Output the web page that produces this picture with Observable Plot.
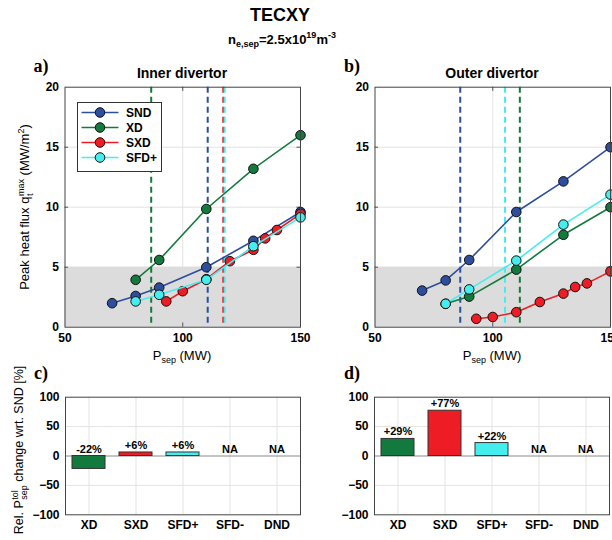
<!DOCTYPE html>
<html><head><meta charset="utf-8">
<script src="https://cdn.jsdelivr.net/npm/d3@7"></script>
<script src="https://cdn.jsdelivr.net/npm/@observablehq/plot@0.6"></script>
<style>
html,body{margin:0;padding:0;background:#fff;}
#root{position:relative;width:612px;height:540px;overflow:hidden;font-family:"Liberation Sans",Arial,sans-serif;color:#000;}
.abs{position:absolute;white-space:nowrap;line-height:1;}
.c{transform:translate(-50%,-50%);}
.panel{font-family:"Liberation Serif","Times New Roman",serif;font-weight:bold;font-size:18px;}
.ttl{font-weight:bold;font-size:14px;}
.lab{font-size:13px;}
sub,sup{font-size:9px;line-height:0;}
.stack{display:inline-flex;flex-direction:column;font-size:9px;line-height:9px;vertical-align:middle;margin-left:0.5px;}
</style></head><body><div id="root"></div>
<script>
// ---------------- data ----------------
const seriesNames = ["SND", "XD", "SXD", "SFD+"];
const seriesColors = ["#2d4e9e", "#127a3c", "#ee1c24", "#44eeee"];

// Inner divertor (panel a): P_sep (MW) and peak heat flux (MW/m2)
const sndInnerX = [70, 80, 90, 110, 130, 150];
const sndInnerY = [2.0, 2.6, 3.3, 5.0, 7.2, 9.6];
const xdInnerX = [80, 90, 110, 130, 150];
const xdInnerY = [3.95, 5.6, 9.85, 13.2, 16.0];
const sxdInnerX = [93, 100, 110, 120, 130, 135, 140, 150];
const sxdInnerY = [2.15, 3.0, 4.0, 5.5, 6.45, 7.4, 8.1, 9.45];
const sfdInnerX = [80, 90, 110, 130, 150];
const sfdInnerY = [2.15, 2.7, 3.95, 6.75, 9.15];
const tolInner = [110.6, 86.6, 117.2, 117.8]; // SND, XD, SXD, SFD+

// Outer divertor (panel b)
const sndOuterX = [70, 80, 90, 110, 130, 150];
const sndOuterY = [3.05, 3.9, 5.6, 9.6, 12.15, 15.0];
const xdOuterX = [80, 90, 110, 130, 150];
const xdOuterY = [1.95, 2.55, 4.8, 7.7, 10.0];
const sxdOuterX = [93, 100, 110, 120, 130, 135, 140, 150];
const sxdOuterY = [0.7, 0.85, 1.25, 2.1, 2.8, 3.35, 3.65, 4.65];
const sfdOuterX = [80, 90, 110, 130, 150];
const sfdOuterY = [1.95, 3.15, 5.55, 8.55, 11.05];
const tolOuter = [86.2, 111.5, 152.6, 105.2]; // SND, XD, SXD (off-chart), SFD+

const qLimit = 5;
const xTicks = [50, 100, 150];
const yTicks = [0, 5, 10, 15, 20];

// Relative P_sep tolerance change wrt SND (%)
const barCats = ["XD", "SXD", "SFD+", "SFD-", "DND"];
const innerChange = [-22, 6, 6, null, null];
const outerChange = [29, 77, 22, null, null];
const innerLabels = ["-22%", "+6%", "+6%", "NA", "NA"];
const outerLabels = ["+29%", "+77%", "+22%", "NA", "NA"];
const barTicks = [-100, -50, 0, 50, 100];

// ---------------- helpers ----------------
function zip(s, xs, ys) { return xs.map((x, i) => ({s, x, y: ys[i]})); }
const innerData = [zip("SND", sndInnerX, sndInnerY), zip("XD", xdInnerX, xdInnerY), zip("SXD", sxdInnerX, sxdInnerY), zip("SFD+", sfdInnerX, sfdInnerY)];
const outerData = [zip("SND", sndOuterX, sndOuterY), zip("XD", xdOuterX, xdOuterY), zip("SXD", sxdOuterX, sxdOuterY), zip("SFD+", sfdOuterX, sfdOuterY)];

const baseStyle = {fontFamily: "Liberation Sans, Arial, sans-serif", fontSize: "12px", fontWeight: "bold", color: "#000", background: "transparent", overflow: "visible"};
const gridColor = "#e3e3e3";

function linePanel(groups, tol) {
  const tolData = tol.map((x, i) => ({s: seriesNames[i], x}));
  const seriesMarks = groups.flatMap(g => [
    Plot.line(g, {x: "x", y: "y", stroke: "s", strokeWidth: 1.6}),
    Plot.dot(g, {x: "x", y: "y", fill: "s", stroke: "#111", strokeWidth: 1, r: 4.8})
  ]);
  return Plot.plot({
    width: 310, height: 300,
    marginLeft: 64.5, marginRight: 10, marginTop: 26.7, marginBottom: 33.3,
    x: {domain: [50, 150]}, y: {domain: [0, 20]},
    color: {domain: seriesNames, range: seriesColors},
    style: baseStyle,
    marks: [
      Plot.gridX([100], {stroke: gridColor, strokeOpacity: 1}),
      Plot.gridY([5, 10, 15], {stroke: gridColor, strokeOpacity: 1}),
      Plot.rect([qLimit], {y1: () => 0, y2: d => d, fill: "#dcdcdc"}),
      Plot.ruleX([100], {x: d => d, y1: () => 0, y2: () => 0.35, stroke: "#555"}),
      Plot.ruleX([100], {x: d => d, y1: () => 19.65, y2: () => 20, stroke: "#555"}),
      Plot.ruleY([5, 10, 15], {y: d => d, x1: () => 50, x2: () => 51.5, stroke: "#555"}),
      Plot.ruleY([5, 10, 15], {y: d => d, x1: () => 148.5, x2: () => 150, stroke: "#555"}),
      Plot.ruleX(tolData.filter(d => d.x <= 150), {x: "x", stroke: "s", strokeWidth: 2, strokeDasharray: "6,4"}),
      ...seriesMarks,
      Plot.frame({stroke: "#444"}),
      Plot.axisX(xTicks, {tickSize: 0, tickPadding: 6, label: null}),
      Plot.axisY(yTicks, {tickSize: 0, tickPadding: 6, label: null})
    ]
  });
}

function barPanel(vals, labels) {
  const table = barCats.map((c, i) => ({c, v: vals[i], label: labels[i]}));
  return Plot.plot({
    width: 310, height: 160,
    marginLeft: 65, marginRight: 10, marginTop: 16.7, marginBottom: 25.7,
    x: {domain: barCats, paddingInner: 0.3, paddingOuter: 0.15},
    y: {domain: [-100, 100]},
    color: {domain: seriesNames, range: seriesColors},
    style: baseStyle,
    marks: [
      Plot.gridX(barCats, {stroke: gridColor, strokeOpacity: 1}),
      Plot.gridY([-50, 50], {stroke: gridColor, strokeOpacity: 1}),
      Plot.ruleY([0], {stroke: "#8a8a8a"}),
      Plot.barY(table.filter(d => d.v != null), {x: "c", y: "v", fill: "c", stroke: "#333", strokeWidth: 1}),
      Plot.text(table, {x: "c", y: d => Math.max(d.v ?? 0, 0), text: "label", dy: -7, fontSize: 11, fontWeight: "bold"}),
      Plot.frame({stroke: "#444"}),
      Plot.axisX(barCats, {tickSize: 0, tickPadding: 6, label: null}),
      Plot.axisY(barTicks, {tickSize: 0, tickPadding: 6, label: null})
    ]
  });
}

const root = document.getElementById("root");
function place(el, left, top) {
  el.style.position = "absolute"; el.style.left = left + "px"; el.style.top = top + "px";
  root.appendChild(el);
}
place(linePanel(innerData, tolInner), 0, 60);
place(linePanel(outerData, tolOuter), 309.5, 60);
place(barPanel(innerChange, innerLabels), 0, 380);
place(barPanel(outerChange, outerLabels), 308.8, 380);

function html(str, cls, x, y, extra) {
  const d = document.createElement("div");
  d.className = "abs " + cls;
  d.innerHTML = str;
  d.style.left = x + "px"; d.style.top = y + "px";
  if (extra) Object.assign(d.style, extra);
  root.appendChild(d);
  return d;
}
html("TECXY", "c", 280, 15, {fontWeight: "bold", fontSize: "18px"});
html("n<sub>e,sep</sub>=2.5x10<sup>19</sup>m<sup>-3</sup>", "c", 282, 39, {fontWeight: "bold", fontSize: "13px"});
html("a)", "panel c", 41, 66);
html("b)", "panel c", 352, 66);
html("c)", "panel c", 41, 373);
html("d)", "panel c", 352, 373);
html("Inner divertor", "ttl c", 182, 73);
html("Outer divertor", "ttl c", 492, 73);
html("P<sub>sep</sub> (MW)", "lab c", 182, 355);
html("P<sub>sep</sub> (MW)", "lab c", 492, 355);
html("Peak heat flux q<span class='stack'><span>max</span><span>t</span></span> (MW/m<sup>2</sup>)", "lab", 26, 207,
  {transform: "translate(-50%,-50%) rotate(-90deg)"});
html("Rel. P<span class='stack'><span>tol</span><span>sep</span></span> change wrt. SND [%]", "lab", 20, 450,
  {transform: "translate(-50%,-50%) rotate(-90deg)", fontSize: "12.5px"});

// legend (panel a)
const leg = document.createElement("div");
leg.className = "abs";
Object.assign(leg.style, {left: "77px", top: "101.5px", width: "83px", height: "68px", border: "1px solid #333", background: "#fff"});
const ns = "http://www.w3.org/2000/svg";
const lsvg = document.createElementNS(ns, "svg");
lsvg.setAttribute("width", 83); lsvg.setAttribute("height", 68);
seriesNames.forEach((s, i) => {
  const cy = 9.5 + i * 15;
  const ln = document.createElementNS(ns, "line");
  ln.setAttribute("x1", 3.5); ln.setAttribute("x2", 40.5); ln.setAttribute("y1", cy); ln.setAttribute("y2", cy);
  ln.setAttribute("stroke", seriesColors[i]); ln.setAttribute("stroke-width", 1.6);
  lsvg.appendChild(ln);
  const c = document.createElementNS(ns, "circle");
  c.setAttribute("cx", 22); c.setAttribute("cy", cy); c.setAttribute("r", 4.8);
  c.setAttribute("fill", seriesColors[i]); c.setAttribute("stroke", "#111");
  lsvg.appendChild(c);
  const t = document.createElementNS(ns, "text");
  t.setAttribute("x", 48); t.setAttribute("y", cy); t.setAttribute("dy", "0.35em");
  t.setAttribute("font-family", "Liberation Sans, Arial, sans-serif"); t.setAttribute("font-size", 12); t.setAttribute("font-weight", "bold");
  t.textContent = s;
  lsvg.appendChild(t);
});
leg.appendChild(lsvg);
root.appendChild(leg);
</script>
</body></html>
